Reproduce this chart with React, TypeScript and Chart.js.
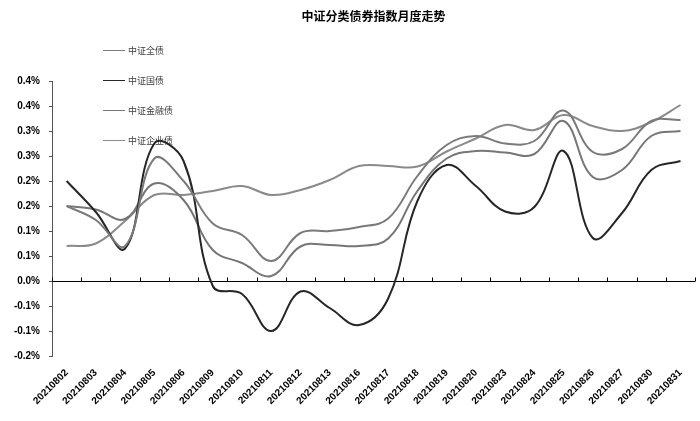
import React, { useEffect, useRef } from 'react';
import { Chart, registerables } from 'chart.js';

Chart.register(...registerables);

const titleText = '中证分类债券指数月度走势';

const categories = [
  '20210802', '20210803', '20210804', '20210805', '20210806', '20210809',
  '20210810', '20210811', '20210812', '20210813', '20210816', '20210817',
  '20210818', '20210819', '20210820', '20210823', '20210824', '20210825',
  '20210826', '20210827', '20210830', '20210831',
];

const seriesNames = ['中证全债', '中证国债', '中证金融债', '中证企业债'];

const quanZhai = [
  0.15, 0.122, 0.07, 0.245, 0.2, 0.115, 0.092, 0.04, 0.096, 0.1, 0.108,
  0.125, 0.21, 0.272, 0.29, 0.275, 0.28, 0.341, 0.258, 0.264, 0.32, 0.322,
];

const guoZhai = [
  0.2, 0.138, 0.065, 0.275, 0.24, -0.01, -0.026, -0.1, -0.021, -0.054, -0.088,
  -0.035, 0.16, 0.232, 0.19, 0.139, 0.148, 0.26, 0.086, 0.136, 0.222, 0.24,
];

const jinRongZhai = [
  0.15, 0.143, 0.124, 0.195, 0.162, 0.062, 0.036, 0.01, 0.069, 0.072, 0.07,
  0.085, 0.18, 0.245, 0.26, 0.257, 0.254, 0.32, 0.208, 0.222, 0.29, 0.3,
];

const qiYeZhai = [
  0.07, 0.075, 0.12, 0.172, 0.172, 0.18, 0.19, 0.172, 0.182, 0.202, 0.23,
  0.23, 0.229, 0.259, 0.285, 0.312, 0.302, 0.332, 0.31, 0.3, 0.318, 0.352,
];

const yTickLabels = [
  '-0.2%', '-0.1%', '-0.1%', '0.0%', '0.1%', '0.1%',
  '0.2%', '0.2%', '0.3%', '0.3%', '0.4%', '0.4%',
];

const seriesColors = ['#7a7a7a', '#262626', '#767676', '#8a8a8a'];

const overlayPlugin = {
  id: 'overlay',
  beforeDatasetsDraw(chart: any) {
    const ctx = chart.ctx;
    ctx.save();
    chart.data.datasets.forEach((ds: any, i: number) => {
      const y = 50 + i * 30;
      ctx.strokeStyle = ds.borderColor;
      ctx.lineWidth = 1;
      ctx.beginPath();
      ctx.moveTo(103, y + 0.5);
      ctx.lineTo(125, y + 0.5);
      ctx.stroke();
      ctx.fillStyle = '#404040';
      ctx.font = '9px "Noto Sans CJK SC"';
      ctx.textBaseline = 'middle';
      ctx.textAlign = 'left';
      ctx.fillText(ds.label, 128, y + 0.5);
    });
    ctx.restore();
  },
  afterDraw(chart: any) {
    const ctx = chart.ctx;
    const area = chart.chartArea;
    const xs = chart.scales.x;
    const ys = chart.scales.y;
    ctx.save();
    ctx.fillStyle = '#000';
    ctx.font = 'bold 12px "Noto Sans CJK SC"';
    ctx.textAlign = 'center';
    ctx.textBaseline = 'middle';
    ctx.fillText(titleText, (area.left + area.right) / 2, 16);
    const y0 = Math.round(ys.getPixelForValue(0)) + 0.5;
    ctx.strokeStyle = '#000';
    ctx.lineWidth = 1;
    ctx.beginPath();
    for (let k = 0; k <= categories.length; k++) {
      const x = Math.round(xs.getPixelForValue(k - 0.5)) + 0.5;
      ctx.moveTo(x, y0);
      ctx.lineTo(x, y0 - 4);
    }
    ctx.stroke();
    ctx.restore();
  },
};

export default function App() {
  const canvasRef = useRef<HTMLCanvasElement | null>(null);

  useEffect(() => {
    if (!canvasRef.current) return;
    const allSeries = [quanZhai, guoZhai, jinRongZhai, qiYeZhai];
    const chart = new Chart(canvasRef.current, {
      type: 'line',
      data: {
        labels: categories,
        datasets: seriesNames.map((name, i) => ({
          label: name,
          data: allSeries[i],
          borderColor: seriesColors[i],
          backgroundColor: seriesColors[i],
          borderWidth: 2,
          pointRadius: 0,
          tension: 0.4,
          fill: false,
        })),
      },
      options: {
        animation: false,
        responsive: false,
        maintainAspectRatio: false,
        layout: { padding: { top: 81, left: 0, right: 0, bottom: 0 } },
        plugins: {
          legend: { display: false },
          title: { display: false },
          tooltip: { enabled: false },
        },
        scales: {
          x: {
            type: 'category',
            offset: true,
            border: { display: false },
            grid: { display: false, drawTicks: false },
            ticks: {
              autoSkip: false,
              minRotation: 45,
              maxRotation: 45,
              padding: 11,
              color: '#000',
              font: { family: '"Liberation Sans", Arial', size: 10, weight: 'bold' },
            },
            afterFit: (scale: any) => {
              scale.height = 65;
            },
          },
          y: {
            min: -0.15,
            max: 0.4,
            border: { display: true, color: '#555', width: 1 },
            grid: {
              drawOnChartArea: true,
              drawTicks: true,
              tickLength: 3,
              tickColor: '#555',
              color: (ctx: any) =>
                ctx.tick && Math.abs(ctx.tick.value) < 1e-9 ? '#000' : 'rgba(0,0,0,0)',
            },
            ticks: {
              stepSize: 0.05,
              padding: 9,
              color: '#000',
              font: { family: '"Liberation Sans", Arial', size: 10, weight: 'bold' },
              callback: (_v: any, index: number) => yTickLabels[index],
            },
            afterFit: (scale: any) => {
              scale.width = 52;
            },
          },
        },
      },
      plugins: [overlayPlugin],
    });
    return () => chart.destroy();
  }, []);

  return (
    <div style={{ position: 'fixed', left: 0, top: 0, width: 700, height: 421, background: '#fff' }}>
      <canvas ref={canvasRef} width={700} height={421} style={{ width: 700, height: 421 }} />
    </div>
  );
}
